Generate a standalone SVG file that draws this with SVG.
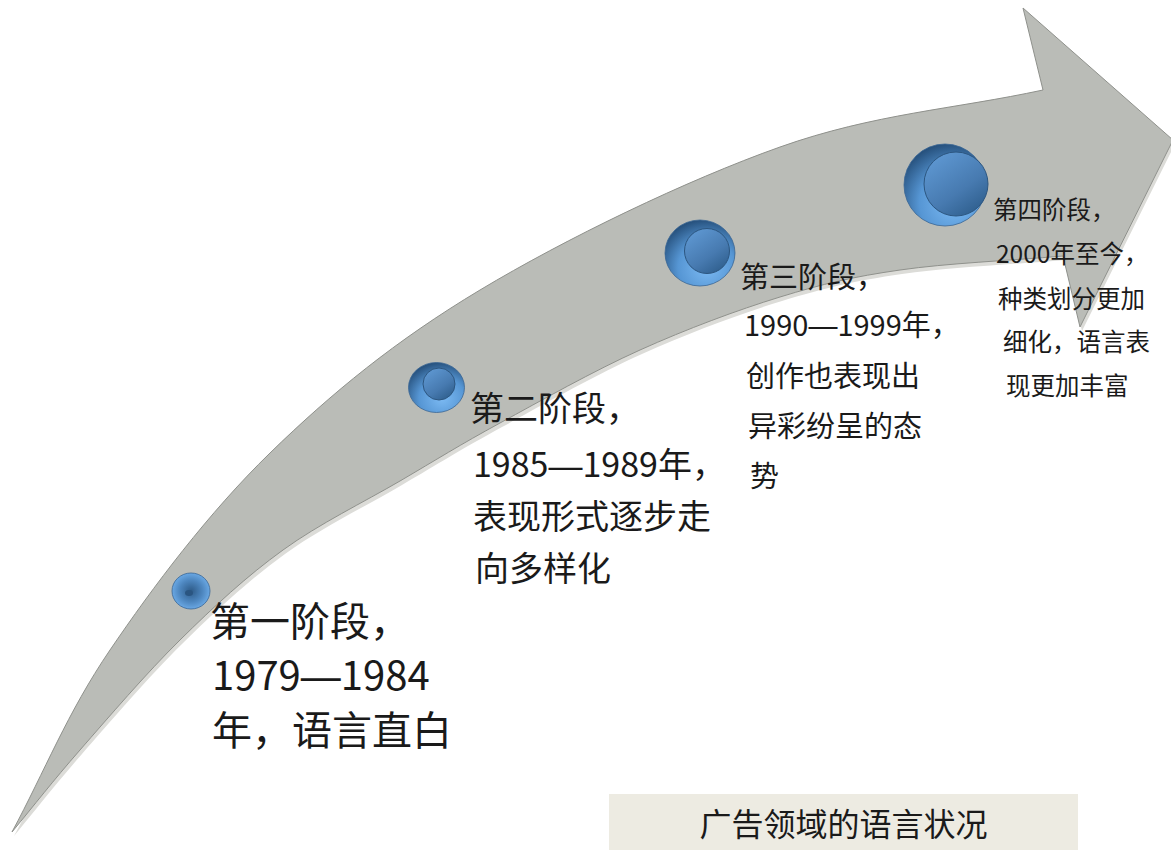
<svg xmlns="http://www.w3.org/2000/svg" width="1171" height="850" viewBox="0 0 1171 850">
<style>
  .txt { font-family: "Noto Sans CJK SC", "Noto Sans", sans-serif; fill: #1a1a1a; }
  .dash { font-family: "Liberation Sans", sans-serif; }
  .arrow { fill: #babcb7; stroke: #8f918c; stroke-width: 1; stroke-linejoin: round; }
  .arrow-under { fill: #dcdcd8; }
  .rim { stroke: #3a6694; stroke-width: 0.8; }
  .face { stroke: #2c5680; stroke-width: 1; }
</style>
<defs>
  <radialGradient id="rimG" cx="0.6" cy="0.72" r="0.75">
    <stop offset="0" stop-color="#7cbaf3"/>
    <stop offset="0.55" stop-color="#5696d4"/>
    <stop offset="1" stop-color="#234c77"/>
  </radialGradient>
  <linearGradient id="faceG" x1="0.2" y1="0.1" x2="0.8" y2="0.95">
    <stop offset="0" stop-color="#5c95cf"/>
    <stop offset="0.6" stop-color="#477ab0"/>
    <stop offset="1" stop-color="#30608f"/>
  </linearGradient>
  <radialGradient id="dimpleG" cx="0.5" cy="0.5" r="0.5">
    <stop offset="0" stop-color="#2e5b88"/>
    <stop offset="0.6" stop-color="#4d86bf"/>
    <stop offset="1" stop-color="#6aa8e4"/>
  </radialGradient>
  <path id="arrowShape" d="M 12,832 C 44.7,771.3 67,713.2 110,650 C 153,586.8 208.3,513 270,453 C 331.7,393 395,341 480,290 C 565,239 686.2,180.3 780,147 C 873.8,113.7 955.3,109 1043,90 L 1023,8 L 1173,140 L 1080,327 L 1063,256 C 1008.7,260.7 947.2,263.2 900,270 C 852.8,276.8 823.3,283.7 780,297 C 736.7,310.3 686.7,329 640,350 C 593.3,371 540,401.2 500,423 C 460,444.8 436.2,459.8 400,481 C 363.8,502.2 319.7,523.5 283,550 C 246.3,576.5 213.8,606.7 180,640 C 146.2,673.3 108,718 80,750 C 52,782 34.7,804.7 12,832 Z"/>
</defs>
<rect width="1171" height="850" fill="#ffffff"/>

<g id="arrow">
  <use href="#arrowShape" class="arrow-under" transform="translate(2,4)"/>
  <use href="#arrowShape" class="arrow"/>
</g>

<g id="connectors"></g>

<g id="stage1">
  <ellipse cx="191" cy="591" rx="19" ry="18" fill="url(#dimpleG)" class="rim"/>
  <ellipse cx="189" cy="593" rx="4" ry="3" fill="#2a5581"/>
  <text class="txt" font-size="40" x="210" y="636">第一阶段，</text>
  <text class="txt" font-size="40" x="212" y="690">1979<tspan class="dash">—</tspan>1984</text>
  <text class="txt" font-size="40" x="212" y="745">年，语言直白</text>
</g>

<g id="stage2">
  <ellipse cx="436.5" cy="387.5" rx="28" ry="25" fill="url(#rimG)" class="rim"/>
  <circle cx="439" cy="384" r="16" fill="url(#faceG)" class="face"/>
  <text class="txt" font-size="34" x="470" y="421">第二阶段，</text>
  <text class="txt" font-size="34" x="473" y="477">1985<tspan class="dash">—</tspan>1989年，</text>
  <text class="txt" font-size="34" x="473" y="529">表现形式逐步走</text>
  <text class="txt" font-size="34" x="475" y="581">向多样化</text>
</g>

<g id="stage3">
  <ellipse cx="700" cy="253" rx="35" ry="33" fill="url(#rimG)" class="rim"/>
  <circle cx="707" cy="251" r="22.5" fill="url(#faceG)" class="face"/>
  <text class="txt" font-size="29" x="740" y="288">第三阶段，</text>
  <text class="txt" font-size="29" x="744" y="336">1990<tspan class="dash">—</tspan>1999年，</text>
  <text class="txt" font-size="29" x="746" y="387">创作也表现出</text>
  <text class="txt" font-size="29" x="748" y="437">异彩纷呈的态</text>
  <text class="txt" font-size="29" x="750" y="487">势</text>
</g>

<g id="stage4">
  <ellipse cx="945" cy="185" rx="41" ry="41" fill="url(#rimG)" class="rim"/>
  <circle cx="956" cy="184" r="32" fill="url(#faceG)" class="face"/>
  <text class="txt" font-size="24.5" x="993" y="219">第四阶段，</text>
  <text class="txt" font-size="24.5" x="996" y="263">2000年至今，</text>
  <text class="txt" font-size="24.5" x="998" y="308">种类划分更加</text>
  <text class="txt" font-size="24.5" x="1003" y="351">细化，语言表</text>
  <text class="txt" font-size="24.5" x="1006" y="395">现更加丰富</text>
</g>

<g id="label">
  <rect x="609" y="794" width="469" height="56" fill="#edebe2"/>
  <text class="txt" font-size="32" x="843.5" y="836" text-anchor="middle">广告领域的语言状况</text>
</g>
</svg>
